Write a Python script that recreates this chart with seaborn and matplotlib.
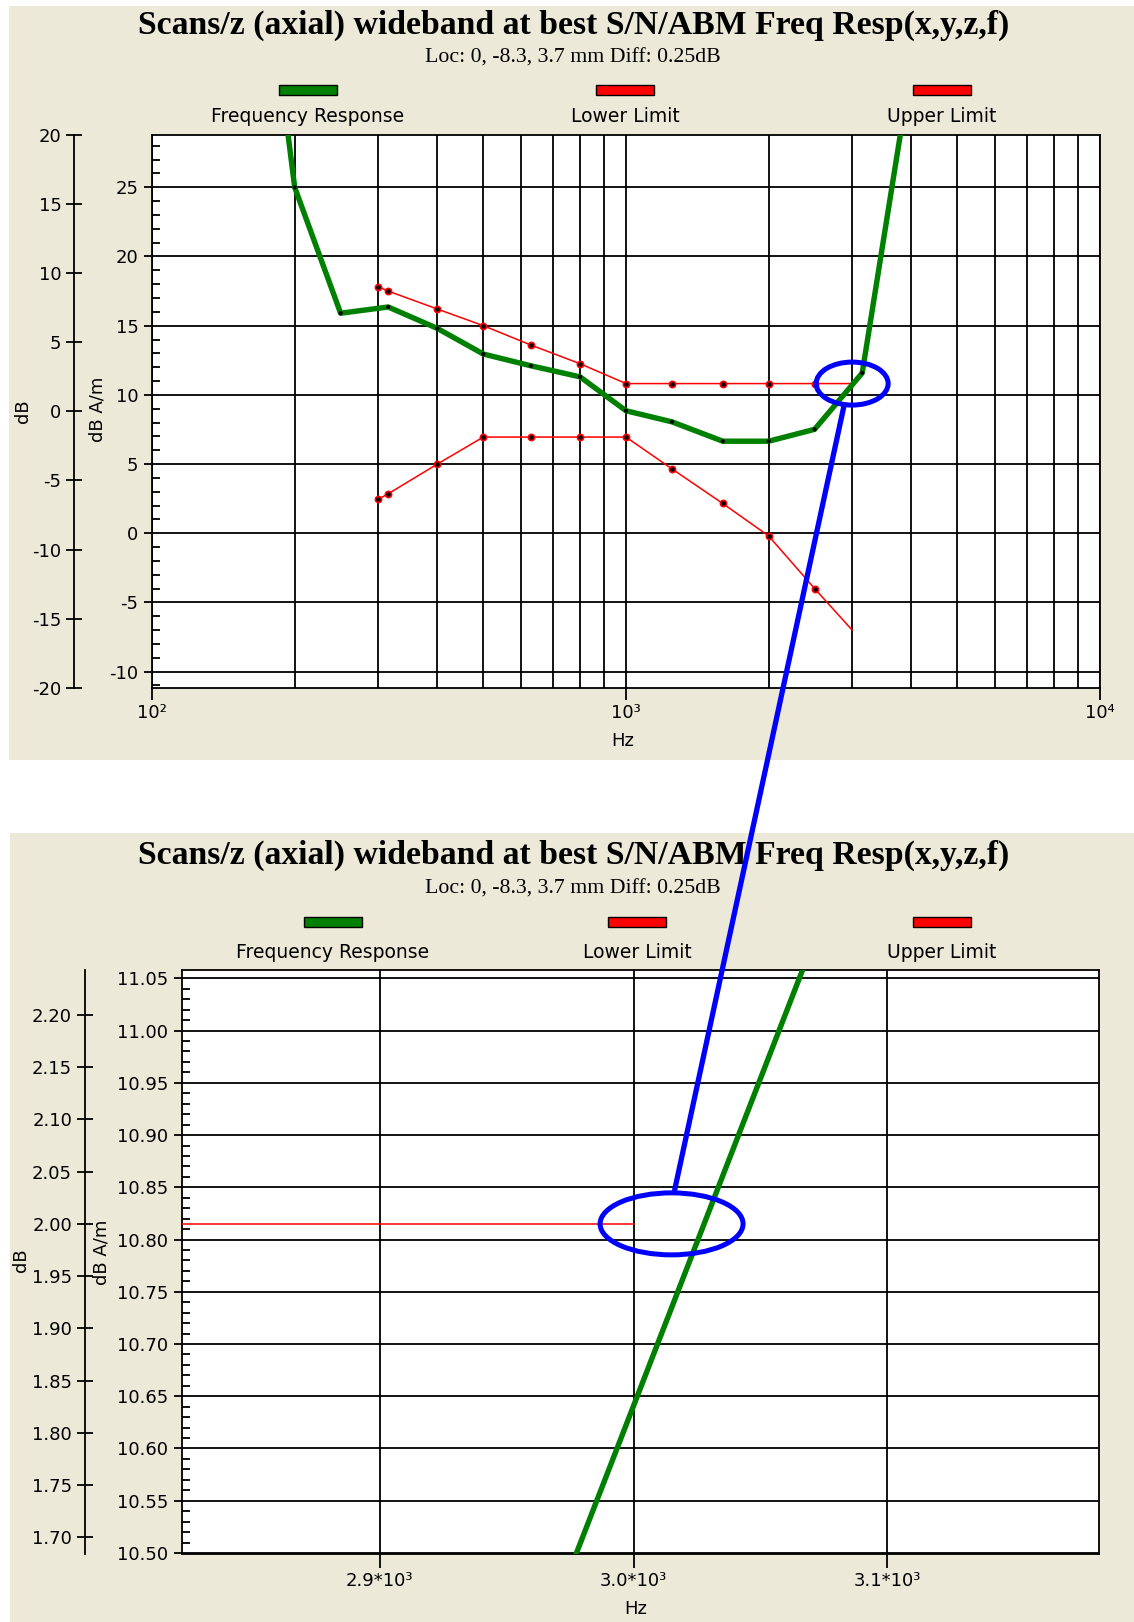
import numpy as np
import pandas as pd
import matplotlib
matplotlib.use("Agg")
import matplotlib.pyplot as plt
import seaborn as sns
from matplotlib.patches import Rectangle, Ellipse, ConnectionPatch
from matplotlib.transforms import ScaledTranslation, offset_copy
from matplotlib.ticker import MultipleLocator, FixedLocator, FuncFormatter, NullLocator, LogLocator, NullFormatter

# ---------------- data ----------------
title_text = "Scans/z (axial) wideband at best S/N/ABM Freq Resp(x,y,z,f)"
subtitle_text = "Loc: 0, -8.3, 3.7 mm Diff: 0.25dB"
legend_labels = ["Frequency Response", "Lower Limit", "Upper Limit"]

resp_freq = [180, 200, 250, 315, 400, 500, 630, 800, 1000, 1250, 1600, 2000, 2500, 3150, 4000]
resp_dbam = [37.4, 25.0, 15.9, 16.35, 14.8, 12.95, 12.1, 11.3, 8.85, 8.05, 6.65, 6.65, 7.51, 11.58, 33.8]

upper_freq = [300, 315, 400, 500, 630, 800, 1000, 1250, 1600, 2000, 2500, 3000]
upper_dbam = [17.82, 17.5, 16.2, 15.0, 13.6, 12.25, 10.815, 10.815, 10.815, 10.815, 10.815, 10.815]

lower_freq = [300, 315, 400, 500, 630, 800, 1000, 1250, 1600, 2000, 2500, 3000]
lower_dbam = [2.45, 2.85, 5.0, 6.95, 6.95, 6.95, 6.95, 4.65, 2.15, -0.2, -4.0, -7.0]

db_offset = 8.815          # dB A/m minus dB
top_db_range = (-20, 20)
bot_db_range = (1.684, 2.243)
bot_xlim = (2822, 3183.5)
zoom_point = (3000, 10.815)
zoom_point_bottom = (3015, 10.815)

top_xtick_vals = [100, 1000, 10000]
top_xtick_labels = ["10²", "10³", "10⁴"]
bot_xtick_vals = [2900, 3000, 3100]
bot_xtick_labels = ["2.9*10³", "3.0*10³", "3.1*10³"]

# ---------------- style ----------------
sns.set_theme(style="white")
plt.rcParams["font.family"] = ["DejaVu Sans"]
plt.rcParams["axes.edgecolor"] = "black"
plt.rcParams["axes.linewidth"] = 1.3
plt.rcParams["text.color"] = "black"

W, H = 1134, 1622
fig = plt.figure(figsize=(W / 100, H / 100), dpi=100)
fig.patch.set_facecolor("white")

def fx(px):
    return px / W

def fy(py):
    return 1 - py / H

BEIGE = "#ECE9D8"
GREEN = "#008000"
RED = "#FF0000"
BLUE = "#0000FF"

# panel backgrounds
for (x0, y0, x1, y1) in [(9, 6, 1134, 760), (10, 833, 1134, 1622)]:
    fig.add_artist(Rectangle((fx(x0), fy(y1)), fx(x1) - fx(x0), fy(y0) - fy(y1),
                             transform=fig.transFigure, facecolor=BEIGE, edgecolor="none", zorder=-10))

TICK_FS = 13
GRID_LW = 1.3

def make_panel(ax_box, db_x, title_y, sub_y, leg_xs, leg_rect_y, leg_text_y,
               dbl_pos, dbaml_pos, hz_pos):
    l, t, r, b = ax_box
    ax = fig.add_axes([fx(l), fy(b), fx(r) - fx(l), fy(t) - fy(b)])
    ax.set_facecolor("white")
    for s in ax.spines.values():
        s.set_visible(True)
        s.set_color("black")
        s.set_linewidth(1.3)
    axdb = fig.add_axes([fx(db_x), fy(b), 0.0001, fy(t) - fy(b)])
    axdb.patch.set_visible(False)
    for k in ["top", "right", "bottom"]:
        axdb.spines[k].set_visible(False)
    axdb.spines["left"].set_linewidth(1.3)
    axdb.set_xticks([])
    fig.text(fx(574), fy(title_y), title_text, ha="center", va="center",
             family="Liberation Serif", fontsize=24.3, fontweight="bold", color="black")
    fig.text(fx(573), fy(sub_y), subtitle_text, ha="center", va="center",
             family="Liberation Serif", fontsize=15.7, color="black")
    colors = [GREEN, RED, RED]
    for xc, c, lab in zip(leg_xs, colors, legend_labels):
        fig.add_artist(Rectangle((fx(xc - 29), fy(leg_rect_y + 5)), 58 / W, 10 / H,
                                 transform=fig.transFigure, facecolor=c, edgecolor="black", lw=1.0))
        fig.text(fx(xc), fy(leg_text_y), lab, ha="center", va="center", fontsize=13.5, color="black")
    fig.text(fx(dbl_pos[0]), fy(dbl_pos[1]), "dB", rotation=90, ha="center", va="center", fontsize=TICK_FS)
    fig.text(fx(dbaml_pos[0]), fy(dbaml_pos[1]), "dB A/m", rotation=90, ha="center", va="center", fontsize=TICK_FS)
    fig.text(fx(hz_pos[0]), fy(hz_pos[1]), "Hz", ha="center", va="center", fontsize=TICK_FS)
    return ax, axdb

def draw_series(ax):
    sns.lineplot(x=upper_freq, y=upper_dbam, ax=ax, color=RED, lw=1.1, sort=False, estimator=None, zorder=3)
    sns.lineplot(x=lower_freq, y=lower_dbam, ax=ax, color=RED, lw=1.1, sort=False, estimator=None, zorder=3)
    sns.lineplot(x=resp_freq, y=resp_dbam, ax=ax, color=GREEN, lw=3.9, sort=False, estimator=None, zorder=4)

def draw_markers(ax):
    sns.scatterplot(x=upper_freq[:-1], y=upper_dbam[:-1], ax=ax, color="black", edgecolor=RED,
                    linewidth=1.2, s=20, zorder=5)
    sns.scatterplot(x=lower_freq[:-1], y=lower_dbam[:-1], ax=ax, color="black", edgecolor=RED,
                    linewidth=1.2, s=20, zorder=5)
    sns.scatterplot(x=resp_freq, y=resp_dbam, ax=ax, color="black", edgecolor="none",
                    s=9, zorder=6)

def style_yaxis(ax, axdb, minor_step, major_step, fmt):
    ax.yaxis.set_major_locator(MultipleLocator(major_step))
    ax.yaxis.set_minor_locator(MultipleLocator(minor_step))
    ax.yaxis.set_major_formatter(FuncFormatter(lambda v, p: fmt.format(v)))
    ax.tick_params(axis="y", which="major", direction="out", length=5.8, width=1.3,
                   labelsize=TICK_FS, pad=4, left=True, colors="black")
    ax.tick_params(axis="y", which="minor", direction="in", length=5.8, width=1.3, left=True, colors="black")
    ax.yaxis.grid(True, which="major", color="black", lw=GRID_LW)
    axdb.yaxis.set_major_locator(MultipleLocator(major_step))
    axdb.yaxis.set_major_formatter(FuncFormatter(lambda v, p: fmt.format(0.0) if abs(v) < 1e-9 else fmt.format(v)))
    axdb.tick_params(axis="y", which="major", direction="inout", length=12, width=1.3,
                     labelsize=TICK_FS, pad=3, left=True, colors="black")
    axdb.yaxis.set_minor_locator(NullLocator())

# ---------------- top panel ----------------
ax1, ax1db = make_panel((152, 134.5, 1100, 688), 74, 25, 58, [308, 625, 941.5], 90, 117,
                        (23, 411), (98, 409), (623, 741))
ax1.set_xscale("log")
draw_series(ax1)
draw_markers(ax1)
ax1.set_xlim(100, 10000)
ax1.set_ylim(top_db_range[0] + db_offset, top_db_range[1] + db_offset)
ax1db.set_ylim(*top_db_range)
ax1.xaxis.set_major_locator(FixedLocator(top_xtick_vals))
ax1.xaxis.set_major_formatter(FuncFormatter(lambda v, p: top_xtick_labels[top_xtick_vals.index(int(round(v)))] if int(round(v)) in top_xtick_vals else ""))
ax1.xaxis.set_minor_locator(LogLocator(base=10, subs=np.arange(2, 10)))
ax1.xaxis.set_minor_formatter(NullFormatter())
ax1.tick_params(axis="x", which="major", direction="out", length=8.6, width=1.3, labelsize=TICK_FS,
                pad=3, bottom=True, colors="black")
ax1.tick_params(axis="x", which="minor", length=0)
ax1.xaxis.grid(True, which="both", color="black", lw=GRID_LW)
style_yaxis(ax1, ax1db, 1, 5, "{:.0f}")

# ---------------- bottom panel ----------------
ax2, ax2db = make_panel((182, 970, 1099, 1554), 84.5, 855, 889, [333, 637, 941.5], 922, 952,
                        (21, 1260), (101, 1252), (636, 1609))
draw_series(ax2)
ax2.set_xlim(*bot_xlim)
ax2.set_ylim(bot_db_range[0] + db_offset, bot_db_range[1] + db_offset)
ax2db.set_ylim(*bot_db_range)
ax2.xaxis.set_major_locator(FixedLocator(bot_xtick_vals))
ax2.xaxis.set_major_formatter(FuncFormatter(lambda v, p: bot_xtick_labels[bot_xtick_vals.index(int(round(v)))] if int(round(v)) in bot_xtick_vals else ""))
ax2.tick_params(axis="x", which="major", direction="out", length=10, width=1.3, labelsize=TICK_FS,
                pad=3, bottom=True, colors="black")
ax2.xaxis.grid(True, which="major", color="black", lw=GRID_LW)
style_yaxis(ax2, ax2db, 0.01, 0.05, "{:.2f}")

for a in (ax1, ax2):
    a.set_xlabel("")
    a.set_ylabel("")
    a.set_axisbelow(True)

# ---------------- blue zoom annotation ----------------
e1 = Ellipse((0, 0), 0.72, 0.43, transform=fig.dpi_scale_trans + ScaledTranslation(zoom_point[0], zoom_point[1], ax1.transData),
             fill=False, edgecolor=BLUE, lw=3.6, clip_on=False, zorder=10)
e2 = Ellipse((0, 0), 1.43, 0.62, transform=fig.dpi_scale_trans + ScaledTranslation(zoom_point_bottom[0], zoom_point_bottom[1], ax2.transData),
             fill=False, edgecolor=BLUE, lw=3.6, clip_on=False, zorder=10)
fig.add_artist(e1)
fig.add_artist(e2)
con = ConnectionPatch(xyA=zoom_point, coordsA=offset_copy(ax1.transData, fig=fig, x=-8, y=-21.5, units="dots"),
                      xyB=zoom_point_bottom, coordsB=offset_copy(ax2.transData, fig=fig, x=3, y=33.5, units="dots"),
                      color=BLUE, lw=3.8, zorder=10)
fig.add_artist(con)

fig.savefig("out.png", dpi=100)
